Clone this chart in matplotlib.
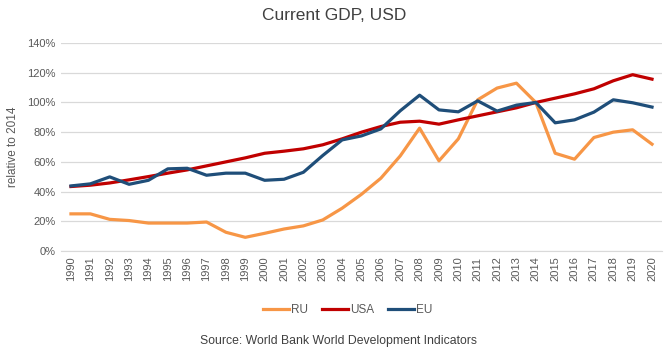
import matplotlib
matplotlib.use("Agg")
import matplotlib.pyplot as plt
from matplotlib.ticker import PercentFormatter

plt.rcParams["font.family"] = ["Liberation Sans", "DejaVu Sans"]

years = list(range(1990, 2021))
ru = [25, 25, 21.3, 20.5, 18.8, 18.8, 18.8, 19.5, 12.6, 9.2, 11.9, 14.8, 16.9, 20.9,
      28.8, 38.2, 49, 64, 82.7, 60.7, 75.5, 101.8, 109.7, 113, 100, 65.8, 61.8, 76.4,
      80, 81.6, 71.9]
usa = [43.4, 44.3, 45.8, 47.9, 50.1, 52.4, 54.6, 57.3, 60, 62.7, 65.8, 67.2, 68.8, 71.5,
       75.5, 80, 83.8, 86.7, 87.4, 85.4, 88.3, 91, 93.7, 96.4, 100, 102.9, 105.8, 109.2,
       114.6, 118.7, 115.7]
eu = [43.8, 45.2, 49.9, 44.9, 47.6, 55.3, 55.7, 51, 52.4, 52.4, 47.6, 48.3, 53, 64.3,
      74.8, 77.5, 82.2, 94.4, 104.9, 95, 93.7, 101.1, 94.2, 98.2, 100, 86.3, 88.3, 93.5,
      101.8, 99.8, 96.9]

fig = plt.figure(figsize=(6.69, 3.53), dpi=100)
ax = fig.add_axes([0.0916, 0.289, 0.8975, 0.589])

ax.plot(years, ru, color="#F79646", lw=2.3, label="RU")
ax.plot(years, usa, color="#C00000", lw=2.3, label="USA")
ax.plot(years, eu, color="#1F4E79", lw=2.3, label="EU")

ax.set_xlim(1989.5, 2020.5)
ax.set_ylim(0, 140)
ax.set_yticks(range(0, 141, 20))
ax.yaxis.set_major_formatter(PercentFormatter(decimals=0))
ax.set_xticks(years)
ax.set_xticklabels([str(y) for y in years], rotation=90)
ax.tick_params(axis="both", length=0, labelsize=8, colors="#595959", pad=4)
ax.grid(axis="y", color="#D9D9D9", lw=0.9)
ax.set_axisbelow(True)
for s in ["top", "right", "left"]:
    ax.spines[s].set_visible(False)
ax.spines["bottom"].set_color("#D9D9D9")

ax.set_ylabel("relative to 2014", fontsize=8.5, color="#595959", labelpad=6)

fig.text(0.5, 0.955, "Current GDP, USD", ha="center", va="center", fontsize=12.5, color="#404040")
fig.legend(loc="center", bbox_to_anchor=(0.52, 0.122), ncol=3, frameon=False,
           fontsize=8.5, handlelength=2.2, columnspacing=1.2, handletextpad=0.15,
           labelcolor="#595959")
fig.text(0.506, 0.035, "Source: World Bank World Development Indicators", ha="center",
         va="center", fontsize=8.8, color="#404040")

fig.savefig("out.png", dpi=100)
